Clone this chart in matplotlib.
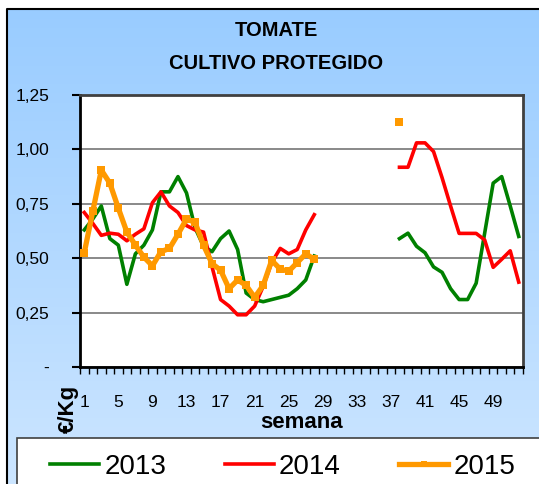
import numpy as np
import matplotlib
matplotlib.use("Agg")
import matplotlib.pyplot as plt
from matplotlib.lines import Line2D
from matplotlib.patches import Rectangle

plt.rcParams['font.family'] = ['Liberation Sans', 'DejaVu Sans']

nan = np.nan

# semanas 1..52
weeks = np.arange(1, 53)

# precios (€/Kg) por semana, huecos = sin dato
p2013 = [0.63, 0.68, 0.74, 0.59, 0.56, 0.38, 0.52, 0.56, 0.63, 0.805,
         0.805, 0.875, 0.80, 0.64, 0.555, 0.53, 0.59, 0.625, 0.54, 0.34,
         0.31, 0.30, 0.31, 0.32, 0.33, 0.36, 0.40, 0.51,
         nan, nan, nan, nan, nan, nan, nan, nan, nan,
         0.59, 0.615, 0.555, 0.525, 0.46, 0.435, 0.36, 0.31, 0.31, 0.385,
         0.615, 0.845, 0.875, 0.74, 0.60]
p2014 = [0.71, 0.66, 0.605, 0.615, 0.61, 0.58, 0.61, 0.635, 0.755, 0.805,
         0.74, 0.71, 0.65, 0.63, 0.62, 0.46, 0.31, 0.28, 0.24, 0.24,
         0.28, 0.37, 0.48, 0.545, 0.52, 0.54, 0.63, 0.70,
         nan, nan, nan, nan, nan, nan, nan, nan, nan,
         0.918, 0.918, 1.03, 1.03, 0.99, 0.87, 0.74, 0.614, 0.614, 0.614,
         0.584, 0.458, 0.495, 0.534, 0.39]
p2015 = [0.525, 0.715, 0.905, 0.845, 0.73, 0.62, 0.56, 0.505, 0.465, 0.53,
         0.545, 0.61, 0.68, 0.665, 0.56, 0.475, 0.445, 0.36, 0.40, 0.375,
         0.32, 0.375, 0.49, 0.45, 0.44, 0.48, 0.52, 0.495,
         nan, nan, nan, nan, nan, nan, nan, nan, nan,
         1.125, nan, nan, nan, nan, nan, nan, nan, nan, nan,
         nan, nan, nan, nan, nan]

years = ['2013', '2014', '2015']
colors = ['#008000', '#FF0000', '#FF9900']

y_ticks = [0, 0.25, 0.50, 0.75, 1.00, 1.25]
y_labels = ['-', '0,25', '0,50', '0,75', '1,00', '1,25']
x_ticks = list(range(1, 53, 4))

W, H = 539, 484
fig = plt.figure(figsize=(W / 100, H / 100), dpi=100)
fig.patch.set_facecolor('white')

# fondo degradado azul con marco
bg = fig.add_axes([0, 0, 1, 1], zorder=-1)
bg.set_xlim(0, W)
bg.set_ylim(H, 0)
bg.axis('off')
grad = np.linspace(0, 1, 256)[:, None]
c_top = np.array([0.60, 0.80, 1.0])
c_bot = np.array([0.80, 0.90, 1.0])
img = c_top[None, None, :] * (1 - grad[:, :, None]) + c_bot[None, None, :] * grad[:, :, None]
bg.imshow(img, extent=[7, W, H, 9], aspect='auto', interpolation='bilinear')
bg.plot([7, 7, W], [H, 9, 9], color='black', lw=1.5, solid_capstyle='butt')
bg.add_patch(Rectangle((17, 438), W - 17 + 5, 60, facecolor='white',
                       edgecolor='#404040', lw=1.2))

# area de grafico
left, right, top, bottom = 80, 523, 95, 367
ax = fig.add_axes([left / W, 1 - bottom / H, (right - left) / W, (bottom - top) / H])
ax.set_facecolor('white')

ax.plot(weeks, p2013, color=colors[0], lw=2.6, zorder=3)
ax.plot(weeks, p2014, color=colors[1], lw=2.6, zorder=3)
ax.plot(weeks, p2015, color=colors[2], lw=3.8, marker='s', markersize=6,
        markeredgewidth=0, zorder=4)

ax.set_xlim(0.5, 52.5)
ax.set_ylim(0, 1.25)
ax.set_yticks(y_ticks)
ax.set_yticklabels(y_labels, fontsize=12.5)
ax.set_xticks(x_ticks)
ax.set_xticklabels([str(t) for t in x_ticks], fontsize=12.5)
ax.set_xticks(np.arange(0.5, 53, 1), minor=True)
ax.tick_params(axis='x', which='major', length=0, pad=20)
ax.tick_params(axis='x', which='minor', length=5, width=1, direction='out')
ax.tick_params(axis='y', which='major', length=6, width=1.5, direction='out', pad=16)
ax.yaxis.grid(True, color='#808080', lw=1.3)
ax.set_axisbelow(True)
for s in ['left', 'bottom']:
    ax.spines[s].set_color('black')
    ax.spines[s].set_linewidth(2)
for s in ['top', 'right']:
    ax.spines[s].set_color('#404040')
    ax.spines[s].set_linewidth(2)

# textos
fig.text(276 / W, 1 - 30 / H, 'TOMATE', ha='center', va='center',
         fontsize=14.5, fontweight='bold')
fig.text(276 / W, 1 - 63 / H, 'CULTIVO PROTEGIDO', ha='center', va='center',
         fontsize=14.5, fontweight='bold')
fig.text(302 / W, 1 - 423 / H, 'semana', ha='center', va='center',
         fontsize=16, fontweight='bold')
fig.text(68 / W, 1 - 409 / H, '€/Kg', ha='center', va='center',
         fontsize=16, fontweight='bold', rotation=90)

# leyenda
handles = [Line2D([], [], color=colors[0], lw=2.6),
           Line2D([], [], color=colors[1], lw=2.6),
           Line2D([], [], color=colors[2], lw=3.8, marker='s', markersize=5,
                  markeredgewidth=0)]
fig.legend(handles, years, loc='center left', bbox_to_anchor=(50 / W, 1 - 467 / H),
           bbox_transform=fig.transFigure, ncol=3, frameon=False, fontsize=20,
           handlelength=1.76, handletextpad=0.2, columnspacing=2.1,
           borderpad=0, borderaxespad=0, numpoints=1)

fig.savefig('out.png', dpi=100)
